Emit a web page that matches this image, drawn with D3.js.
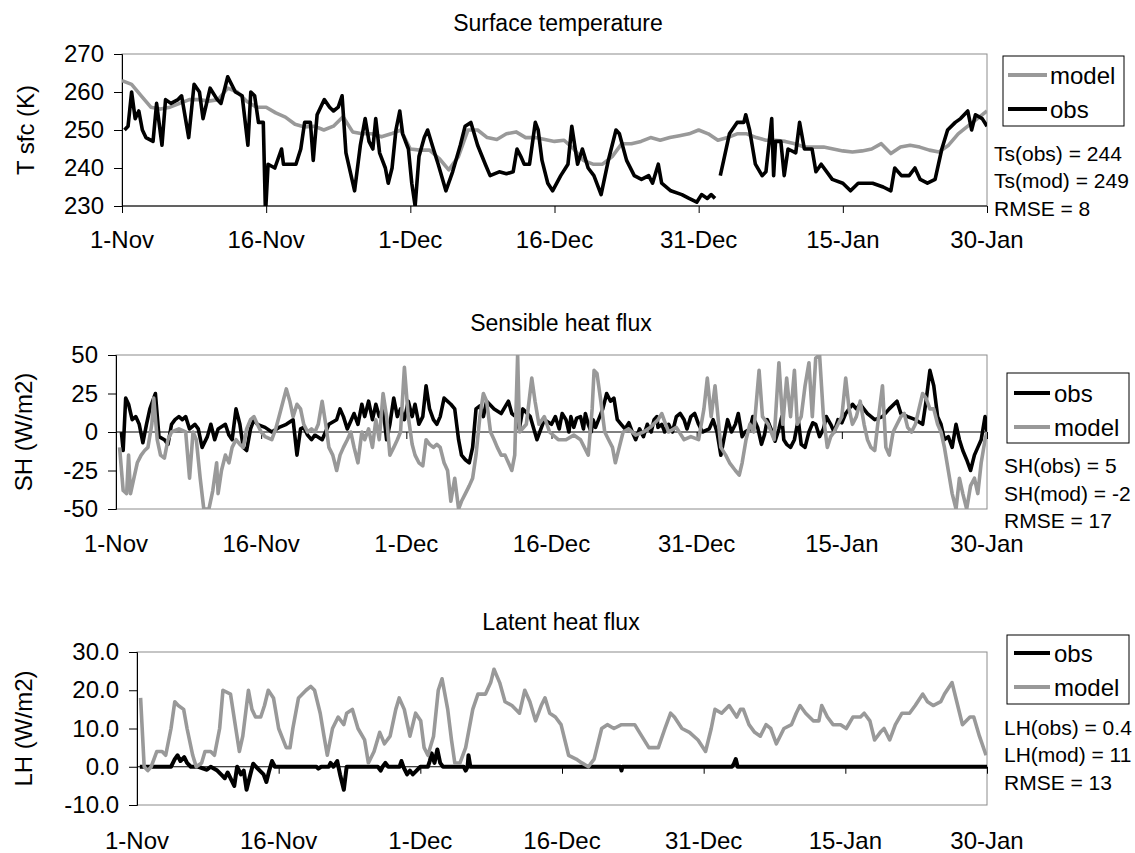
<!DOCTYPE html>
<html><head><meta charset="utf-8">
<script src="https://cdn.jsdelivr.net/npm/d3@7"></script>
<style>
body{margin:0;background:#fff}
svg{display:block}
text{font-family:"Liberation Sans",Arial,sans-serif;fill:#000}
</style>
</head><body><svg id="c" width="1135" height="853"></svg>
<script>
// ---------------- DATA ----------------
const dateTickDays = [0, 15, 30, 45, 60, 75, 90];
const dateTickLabels = ["1-Nov", "16-Nov", "1-Dec", "16-Dec", "31-Dec", "15-Jan", "30-Jan"];

const tsTicks = [230, 240, 250, 260, 270];
const tsTickLabels = ["230", "240", "250", "260", "270"];
const shTicks = [-50, -25, 0, 25, 50];
const shTickLabels = ["-50", "-25", "0", "25", "50"];
const lhTicks = [-10, 0, 10, 20, 30];
const lhTickLabels = ["-10.0", "0.0", "10.0", "20.0", "30.0"];

// Surface temperature, model (daily, day 0 = 1-Nov)
const tsModel = [263, 262, 259, 256, 255.5, 256, 257, 258, 258, 257.6, 258, 261, 260, 257.5, 256, 256,
  254.5, 253.4, 251.5, 250.8, 251, 250, 251, 253.5, 249.5, 249, 249, 248.2, 249, 250, 245, 244.7, 244.7,
  242.5, 239.5, 243, 250, 250, 248, 247.5, 249, 249.5, 248, 248, 247.5, 247, 247.3, 245, 242, 241, 241,
  243, 246.4, 246.4, 247, 248, 247.3, 248, 248.5, 249, 250, 249, 247.3, 248, 249, 249, 248, 247.3, 247.3,
  247, 246.4, 245.5, 245.5, 245.5, 245, 244.5, 244.2, 244.5, 245, 246.4, 243.8, 245.5, 246, 245.5, 244.7,
  244.2, 246, 249, 251, 253, 255];

// Surface temperature, obs [day, K]; null = missing
const tsObs = [[0.26,250],[0.63,251],[1.0,260],[1.37,253],[1.75,255],[2.12,250],[2.49,248],[3.23,247],
  [3.6,257],[4.16,246],[4.53,258],[5.09,257],[5.83,258],[6.2,259],[6.94,248],[7.5,262],[8.06,260],
  [8.43,253],[9.17,261],[9.91,258],[10.3,257],[11.0,264],[11.8,260],[12.5,259],[13.1,246],[13.4,260],
  [13.8,259],[14.2,252],[14.7,252],[14.93,228],[15.2,241],[15.9,240],[16.6,245],[16.8,241],[17.3,241],
  [18.1,241],[18.6,245],[19.0,252],[19.6,252],[19.9,242],[20.3,254],[21.05,258],[21.6,256],[22.0,255],
  [22.5,256],[22.9,259],[23.3,244],[24.2,234],[24.8,246],[25.3,253],[25.7,247],[26.1,245],[26.4,253],
  [26.8,244],[27.4,240],[27.7,236],[28.1,240],[28.5,250],[28.9,255],[29.2,249],[29.8,245],[30.15,236],
  [30.5,230],[30.9,243],[31.45,248],[31.8,250],[32.4,245],[32.9,241],[33.7,234],[34.4,239],[35.2,246],
  [35.7,251],[36.3,252],[37.0,246],[37.8,241],[38.3,238],[39.25,239],[40.0,238.5],[40.7,239],[41.1,245],
  [41.5,243],[41.85,241],[42.4,241],[43.0,252],[43.3,250],[43.7,242],[44.3,236],[44.8,234],[45.65,238],
  [46.4,241],[46.8,251],[47.4,241],[47.9,245],[48.5,240],[49.1,238],[49.85,233],[50.6,242],[51.4,250],
  [51.75,249],[52.5,242],[53.3,238],[54.05,237],[54.8,238],[55.2,236],[55.8,241],[56.15,236],[57.1,234],
  [58.25,233],[59.0,232],[59.8,231],[60.3,233],[60.9,232],[61.3,233],[61.7,232],[62.0,null],[62.25,238],
  [62.6,242],[63.2,249],[64.0,252],[64.7,252],[64.9,254],[65.3,250],[65.9,241],[66.6,238],[67.0,239],
  [67.6,253],[67.8,238],[68.0,247],[68.55,247],[68.9,238],[69.3,245],[70.1,244],[70.5,252],[71.0,245],
  [71.8,245],[72.2,239],[72.75,241],[73.9,237],[75.0,236],[75.8,234],[76.6,236],[78.1,236],[79.2,235],
  [80.0,234],[80.4,240],[81.1,238],[81.9,238],[82.5,240],[83.05,237],[83.8,236],[84.6,237],[85.3,245],
  [85.9,250],[86.7,252],[87.25,253],[88.0,255],[88.4,250],[88.8,254],[89.5,253],[90.0,251]];

// Sensible heat flux, obs [day, W/m2]
const shObs = [[0.56,0],[0.74,-12],[1.0,22],[1.3,18],[1.67,8],[2.04,10],[2.4,5],[2.78,-7],[3.15,5],
  [3.5,15],[4.07,25],[4.44,-3],[5.0,-5],[5.37,-8],[5.74,5],[6.1,8],[6.5,10],[6.85,8],[7.2,10],[7.6,2],
  [8.15,5],[8.5,2],[8.9,-10],[9.44,-3],[9.8,5],[10.2,-5],[10.55,2],[11.3,5],[11.67,-2],[12.0,-5],
  [12.4,15],[12.8,5],[13.15,-10],[13.5,-12],[13.9,2],[14.26,8],[14.6,5],[15.4,3],[16.1,0],[16.85,3],
  [17.6,5],[18.3,8],[18.7,-15],[19.07,2],[19.4,3],[19.8,-2],[20.2,-5],[20.55,-2],[21.3,-5],[22.0,5],
  [22.8,8],[23.15,15],[23.5,10],[23.9,2],[24.6,12],[25.0,5],[25.4,18],[25.7,10],[26.1,20],[26.5,8],
  [26.85,18],[27.2,10],[27.6,15],[27.96,-5],[28.3,5],[28.7,22],[29.07,10],[29.4,15],[29.8,8],[30.2,20],
  [30.6,10],[30.9,18],[31.3,5],[31.7,10],[32.04,30],[32.4,15],[32.8,8],[33.15,5],[33.5,10],[33.9,22],
  [34.6,18],[35.0,15],[35.4,-5],[35.7,-15],[36.1,-18],[36.5,-20],[36.85,-10],[37.2,15],[37.6,17],
  [37.96,10],[38.3,20],[39.07,15],[39.8,12],[40.55,20],[40.9,12],[41.3,10],[41.67,2],[42.04,15],[42.8,10],
  [43.5,-5],[44.26,8],[45.0,5],[45.4,10],[45.8,2],[46.1,12],[46.5,8],[46.8,0],[47.0,10],[47.3,3],
  [47.6,9],[48.0,10],[48.3,2],[48.5,12],[48.8,5],[49.1,0],[49.3,8],[49.55,3],[50.3,15],[50.7,25],
  [51.1,20],[51.45,22],[51.8,8],[52.2,5],[52.6,2],[53.0,6],[53.35,0],[53.7,-5],[54.1,2],[54.5,-3],
  [54.9,5],[55.3,0],[55.6,8],[55.9,10],[56.0,3],[56.4,5],[56.7,0],[57.1,5],[57.5,0],[57.9,10],[58.3,12],
  [58.7,8],[59.0,2],[59.4,10],[59.8,12],[60.2,5],[60.6,0],[61.3,2],[61.7,8],[62.1,0],[62.5,-15],
  [62.8,-5],[63.2,8],[63.6,0],[64.0,5],[64.3,12],[64.7,-3],[65.0,0],[65.5,2],[65.8,10],[66.3,3],
  [66.7,-8],[67.0,-2],[67.3,8],[67.8,0],[68.1,-6],[68.5,2],[68.8,10],[69.0,-5],[69.3,-8],[69.7,-10],
  [70.1,-5],[70.5,8],[70.8,-8],[71.2,-10],[71.6,0],[72.0,6],[72.3,5],[72.7,-3],[73.1,2],[73.4,10],
  [73.85,5],[74.2,0],[74.6,8],[75.0,6],[75.4,12],[76.1,18],[76.5,15],[76.9,18],[77.65,12],[78.4,8],
  [79.2,10],[79.9,15],[80.7,20],[81.1,12],[81.8,10],[82.6,8],[83.35,5],[83.7,20],[84.1,40],[84.5,30],
  [84.9,10],[85.25,5],[85.6,-5],[86.0,-3],[86.4,-10],[86.8,5],[87.15,-5],[87.5,-12],[87.9,-18],[88.3,-25],
  [88.7,-15],[89.05,-10],[89.4,-5],[89.8,10],[90.0,0]];

// Sensible heat flux, model [day, W/m2]
const shModel = [[0.37,-10],[0.74,-38],[1.1,-40],[1.3,-15],[1.5,-40],[1.85,-30],[2.2,-20],[2.6,-15],
  [2.96,-12],[3.3,-10],[3.7,5],[3.9,22],[4.26,-5],[4.6,-15],[5.0,-17],[5.37,-5],[5.74,0],[6.5,2],[7.2,0],
  [7.6,-30],[7.96,0],[8.3,-5],[8.7,-30],[9.07,-50],[9.6,-50],[10.0,-38],[10.4,-20],[10.55,-40],[10.9,-25],
  [11.3,-15],[11.67,-20],[12.0,-10],[12.4,-5],[12.8,-8],[13.15,-10],[13.5,2],[13.9,8],[14.26,10],[14.6,5],
  [15.0,0],[15.4,-3],[16.1,-5],[16.5,2],[16.85,10],[17.6,28],[17.96,20],[18.3,10],[18.7,18],[19.07,15],
  [19.4,5],[19.8,0],[20.2,2],[20.55,0],[20.9,5],[21.3,20],[21.67,5],[22.0,-10],[22.4,-15],[22.8,-25],
  [23.15,-15],[23.5,-10],[23.9,-5],[24.26,0],[24.6,-10],[25.0,-20],[25.4,0],[25.7,-5],[26.1,2],[26.5,-10],
  [26.85,8],[27.2,-5],[27.6,25],[27.96,10],[28.3,-15],[28.7,-10],[29.07,-5],[29.4,0],[29.8,42],[30.2,10],
  [30.6,-8],[30.9,-15],[31.3,-20],[31.7,-22],[32.04,-5],[32.4,-8],[32.8,-10],[33.15,-8],[33.5,-10],
  [33.9,-20],[34.26,-25],[34.6,-45],[35.0,-30],[35.4,-50],[35.7,-45],[36.1,-40],[36.5,-35],[36.85,-30],
  [37.2,-15],[37.6,10],[37.96,25],[38.3,20],[38.7,0],[39.07,-5],[39.4,-10],[39.8,-15],[40.2,-15],
  [40.55,-20],[40.9,-25],[41.2,-15],[41.5,50],[41.7,0],[42.4,5],[42.96,35],[43.3,20],[43.7,5],[44.26,10],
  [44.8,0],[45.7,-5],[46.5,-5],[47.3,-2],[48.0,-5],[48.8,-15],[49.2,15],[49.4,40],[49.7,38],[50.1,20],
  [50.5,0],[50.9,-5],[51.3,-10],[51.6,-20],[52.0,-10],[52.4,0],[52.97,2],[53.7,-2],[54.5,0],[55.2,3],
  [56.0,8],[56.4,12],[56.8,5],[57.1,0],[57.9,3],[58.7,-5],[59.4,-3],[60.2,-5],[60.75,15],[61.1,35],
  [61.5,10],[61.9,30],[62.5,-10],[63.0,-15],[63.4,-20],[64.0,-25],[64.4,-28],[64.7,-20],[65.1,-5],
  [65.5,5],[65.9,0],[66.45,40],[66.8,10],[67.4,5],[68.0,-5],[68.5,45],[68.9,5],[69.3,35],[69.7,10],
  [70.1,40],[70.4,5],[70.8,10],[71.2,30],[71.6,45],[71.95,10],[72.3,48],[72.7,50],[73.1,10],[73.5,-10],
  [73.85,-3],[74.2,0],[74.6,5],[75.0,10],[75.4,35],[75.75,15],[76.1,5],[76.5,10],[76.9,20],[77.3,5],
  [77.65,-5],[78.0,-10],[78.4,-12],[78.8,10],[79.2,30],[79.55,-10],[79.9,-15],[80.3,0],[80.7,5],[81.1,10],
  [81.45,12],[81.8,3],[82.2,0],[82.6,5],[82.97,15],[83.35,25],[83.7,22],[84.1,15],[84.5,15],[84.9,5],
  [85.25,0],[85.6,-10],[86.0,-25],[86.4,-40],[86.8,-50],[87.15,-30],[87.5,-40],[87.9,-50],[88.3,-35],
  [88.7,-30],[89.05,-40],[89.4,-20],[89.8,-5],[90.0,0]];

// Latent heat flux, obs [day, W/m2]
const lhObs = [[0.3,0],[3.6,0],[4.0,2],[4.3,3],[4.6,1.5],[5.0,2.5],[5.3,1],[5.7,0],[6.5,0],[7.4,-0.8],
  [7.8,0],[8.5,-1],[8.9,-2],[9.3,-3],[9.6,-1.5],[10.0,-3.5],[10.3,-5],[10.6,0],[11.0,-2],[11.3,-1],
  [11.6,-6],[12.0,-2],[12.3,0.8],[12.6,0],[13.0,-1],[13.4,-2],[13.7,-4],[14.0,-1],[14.3,1.5],[14.6,0],
  [19.0,0],[19.2,-0.5],[19.5,0],[20.3,0],[20.5,1],[20.8,0],[21.2,1.5],[21.5,-2],[21.9,-6],[22.2,0],
  [25.5,0],[25.8,-1],[26.0,0],[26.3,1],[26.6,0],[27.8,0],[28.0,1.5],[28.2,0],[28.6,-2],[28.9,-1],
  [29.2,-2],[29.6,-1],[30.0,0],[30.8,0],[31.0,1.5],[31.2,3.5],[31.5,1],[31.8,4.5],[32.1,1],[32.4,0],
  [34.6,0],[34.8,-1],[35.0,0],[35.1,3],[35.3,0],[51.2,0],[51.3,-1],[51.4,0],[63.0,0],[63.2,0.8],
  [63.4,2],[63.6,0],[90.0,0]];

// Latent heat flux, model [day, W/m2]
const lhModel = [[0.38,18],[0.76,0],[1.14,-1],[1.5,0],[2.1,4],[2.66,4],[3.04,3],[3.6,10],[4.0,17],
  [4.37,16],[4.94,15],[5.3,10],[5.9,3],[6.27,0],[6.84,1],[7.2,4],[7.8,4],[8.2,3],[8.75,10],[9.1,20],
  [9.9,19],[10.46,10],[10.84,4],[11.2,8],[11.8,20],[12.17,15],[12.55,13],[13.1,13],[13.5,16],[13.9,20],
  [14.45,18],[15.0,10],[15.8,5],[16.2,5],[16.5,10],[17.1,18],[17.9,20],[18.4,21],[18.8,20],[19.4,14],
  [19.8,8],[20.15,3],[20.7,10],[21.3,13],[21.9,11],[22.2,14],[22.8,15],[23.4,10],[24.1,7],[24.5,1],
  [25.1,4],[25.7,9],[26.2,6],[26.8,8],[27.4,15],[27.76,18],[28.3,15],[28.9,8],[29.5,14],[30.04,12],
  [30.4,5],[30.8,3],[31.4,8],[31.9,20],[32.3,23],[32.9,15],[33.3,7],[33.65,1],[34.2,1],[34.8,5],
  [35.55,15],[36.1,19],[36.9,19],[37.45,22],[37.8,25.5],[38.4,22],[38.97,17],[39.7,16],[40.5,14],
  [41.06,20],[41.6,17],[42.2,12],[42.8,16],[43.2,18],[43.7,14],[44.3,13],[44.9,11],[45.7,3],[46.5,2],
  [47.1,1],[47.8,0],[48.4,2],[49.2,10],[49.8,11],[50.5,10],[51.3,11],[52.1,11],[52.7,11],[53.2,9],
  [54.2,5],[55.2,5],[55.9,10],[56.5,14],[56.9,13],[57.7,10],[58.5,9],[59.4,7],[60.2,4],[60.8,10],
  [61.2,15],[61.9,14],[62.7,16],[63.5,13],[63.9,15],[64.2,15],[64.8,11],[65.4,9],[66.0,8],[66.6,11],
  [67.1,10],[67.7,6],[68.5,10],[69.3,11],[69.8,14],[70.2,16],[70.8,14],[71.6,12],[72.2,12],[72.5,16],
  [73.1,13],[73.7,11],[74.5,11],[75.1,10],[75.8,13],[76.6,13],[77.0,14],[77.6,12],[78.1,7],[78.7,9],
  [79.1,10],[79.7,7],[80.3,11],[81.0,14],[81.8,14],[82.4,16],[83.2,19],[83.7,17],[84.3,16],[85.1,17],
  [85.5,19],[86.3,22],[86.8,17],[87.4,11],[88.2,13],[88.6,13],[89.2,8],[89.9,3]];

// ---------------- DRAWING ----------------
const svg = d3.select("#c");
const GRAY = "#999999";
const FONT = 24;

function drawPanel(p, idx) {
  const x = d3.scaleLinear().domain([0, 90]).range([p.left, p.right]);
  const y = d3.scaleLinear().domain(p.yDomain).range([p.bottom, p.top]);
  const g = svg.append("g");
  const clipId = "clip" + idx;
  svg.append("clipPath").attr("id", clipId).append("rect")
    .attr("x", p.left).attr("y", p.top).attr("width", p.right - p.left).attr("height", p.bottom - p.top);

  g.append("rect").attr("x", p.left).attr("y", p.top)
    .attr("width", p.right - p.left).attr("height", p.bottom - p.top)
    .attr("fill", "none").attr("stroke", "#8c8c8c").attr("stroke-width", 1);

  g.append("text").attr("x", p.titleX).attr("y", p.titleY).attr("text-anchor", "middle")
    .attr("dominant-baseline", "central").style("font-size", "23px").text(p.title);

  const ya = g.append("g").attr("transform", `translate(${p.left},0)`)
    .call(d3.axisLeft(y).tickValues(p.yTicks).tickSize(8).tickPadding(10)
      .tickFormat((d, i) => p.yTickLabels[i]));
  ya.select(".domain").attr("stroke", "#000");
  ya.selectAll("line").attr("stroke", "#000");
  ya.selectAll("text").style("font-size", FONT + "px").attr("font-family", null);

  const xa = g.append("g").attr("transform", `translate(0,${y(p.xCross)})`)
    .call(d3.axisBottom(x).tickValues(dateTickDays).tickSize(7).tickFormat(""));
  xa.select(".domain").attr("stroke", "#000").attr("d", `M${p.left},0H${p.right}`);
  xa.selectAll("line").attr("stroke", "#000");

  g.append("g").selectAll("text").data(dateTickDays).join("text")
    .attr("x", d => x(d)).attr("y", p.xLabelY).attr("text-anchor", "middle")
    .attr("dominant-baseline", "central").style("font-size", FONT + "px")
    .text((d, i) => dateTickLabels[i]);

  g.append("text").attr("transform", `translate(${p.yTitleX},${(p.top + p.bottom) / 2}) rotate(-90)`)
    .attr("text-anchor", "middle").attr("dominant-baseline", "central")
    .style("font-size", FONT + "px").text(p.yTitle);

  const line = d3.line().defined(d => d[1] !== null).x(d => x(d[0])).y(d => y(d[1]));
  const lg = g.append("g").attr("clip-path", `url(#${clipId})`);
  p.series.forEach(s => {
    const pts = s.data.slice().sort((a, b) => a[0] - b[0]);
    lg.append("path").datum(pts).attr("d", line).attr("fill", "none")
      .attr("stroke", s.color).attr("stroke-width", s.width)
      .attr("stroke-linejoin", "round").attr("stroke-linecap", "butt");
  });

  const L = p.legend;
  g.append("rect").attr("x", L.x0).attr("y", L.y0).attr("width", L.x1 - L.x0).attr("height", L.y1 - L.y0)
    .attr("fill", "#fff").attr("stroke", "#000").attr("stroke-width", 1);
  L.items.forEach((it, i) => {
    const yy = L.ys[i];
    g.append("line").attr("x1", L.lx0).attr("x2", L.lx1).attr("y1", yy).attr("y2", yy)
      .attr("stroke", it.color).attr("stroke-width", 4);
    g.append("text").attr("x", L.tx).attr("y", yy).attr("dominant-baseline", "central")
      .style("font-size", FONT + "px").text(it.name);
  });

  p.stats.texts.forEach((t, i) => {
    g.append("text").attr("x", p.stats.x).attr("y", p.stats.ys[i]).attr("dominant-baseline", "central")
      .style("font-size", "21px").text(t);
  });
}

const tsModelPts = tsModel.map((v, i) => [i, v]);

const panels = [
  {
    left: 122, right: 987, top: 54, bottom: 206, yDomain: [230, 270],
    yTicks: tsTicks, yTickLabels: tsTickLabels, xCross: 230, xLabelY: 239,
    title: "Surface temperature", titleX: 558, titleY: 23, yTitle: "T sfc (K)", yTitleX: 25,
    series: [{data: tsModelPts, color: GRAY, width: 3.6}, {data: tsObs, color: "#000", width: 3.6}],
    legend: {x0: 1003, y0: 56, x1: 1124, y1: 126, lx0: 1008, lx1: 1047, tx: 1050, ys: [75, 109],
      items: [{name: "model", color: GRAY}, {name: "obs", color: "#000"}]},
    stats: {x: 994, ys: [153, 180, 208], texts: ["Ts(obs) = 244", "Ts(mod) = 249", "RMSE = 8"]}
  },
  {
    left: 116, right: 987, top: 355, bottom: 509, yDomain: [-50, 50],
    yTicks: shTicks, yTickLabels: shTickLabels, xCross: 0, xLabelY: 543,
    title: "Sensible heat flux", titleX: 561, titleY: 323, yTitle: "SH (W/m2)", yTitleX: 23,
    series: [{data: shObs, color: "#000", width: 3.6}, {data: shModel, color: GRAY, width: 3.6}],
    legend: {x0: 1007, y0: 373, x1: 1129, y1: 443, lx0: 1014, lx1: 1050, tx: 1054, ys: [393, 427],
      items: [{name: "obs", color: "#000"}, {name: "model", color: GRAY}]},
    stats: {x: 1004, ys: [465, 493, 520], texts: ["SH(obs) = 5", "SH(mod) = -2", "RMSE = 17"]}
  },
  {
    left: 137, right: 987, top: 652, bottom: 805, yDomain: [-10, 30],
    yTicks: lhTicks, yTickLabels: lhTickLabels, xCross: 0, xLabelY: 840,
    title: "Latent heat flux", titleX: 561, titleY: 622, yTitle: "LH (W/m2)", yTitleX: 23,
    series: [{data: lhObs, color: "#000", width: 4}, {data: lhModel, color: GRAY, width: 3.6}],
    legend: {x0: 1007, y0: 635, x1: 1129, y1: 704, lx0: 1014, lx1: 1050, tx: 1054, ys: [653, 687],
      items: [{name: "obs", color: "#000"}, {name: "model", color: GRAY}]},
    stats: {x: 1004, ys: [727, 754, 782], texts: ["LH(obs) = 0.4", "LH(mod) = 11", "RMSE = 13"]}
  }
];

panels.forEach(drawPanel);
</script>
</body></html>
